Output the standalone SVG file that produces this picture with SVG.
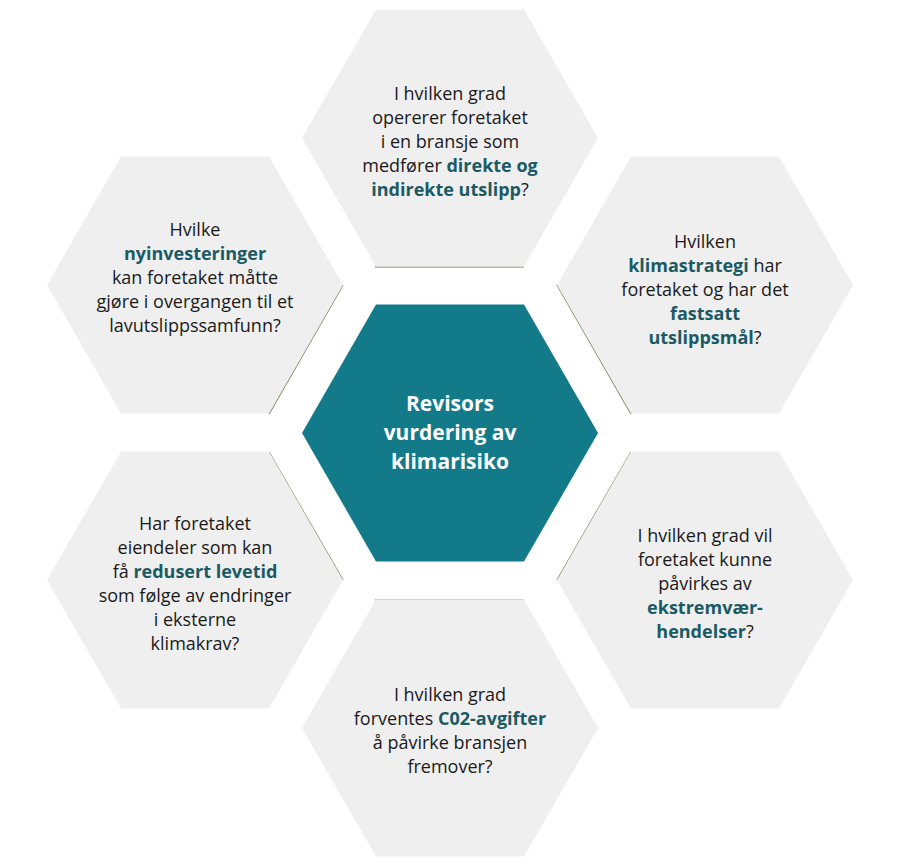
<svg xmlns="http://www.w3.org/2000/svg" width="900" height="865" viewBox="0 0 900 865">
<style>
.hex{fill:#efefef}
.t{font-family:"Open Sans","Liberation Sans",sans-serif;font-size:18px;fill:#1a1a1a;text-anchor:middle}
.b{font-weight:bold;fill:#1b5a64}
.c{font-family:"Open Sans","Liberation Sans",sans-serif;font-size:21px;font-weight:bold;fill:#fff;text-anchor:middle}
.ln{stroke:#7a7352;stroke-width:1.2;fill:none}
</style>
<defs><polygon id="h" points="-148,0 -74,-128.5 74,-128.5 148,0 74,128.5 -74,128.5"/></defs>
<rect width="900" height="865" fill="#fff"/>
<g id="connectors">
<line class="ln" x1="375" y1="267" x2="524" y2="267"/>
<line class="ln" x1="375" y1="600" x2="524" y2="600"/>
<line class="ln" x1="343" y1="285" x2="269" y2="414"/>
<line class="ln" x1="557" y1="285" x2="631" y2="414"/>
<line class="ln" x1="269" y1="452" x2="343" y2="580"/>
<line class="ln" x1="631" y1="452" x2="557" y2="580"/>
</g>
<g id="center"><use href="#h" transform="translate(450,433)" fill="#137a8a"/>
<text class="c" x="450" y="411">Revisors</text><text class="c" x="450" y="440">vurdering av</text><text class="c" x="450" y="469">klimarisiko</text></g>
<g id="top"><use href="#h" class="hex" transform="translate(450,138)"/>
<text class="t" x="450" y="100">I hvilken grad</text><text class="t" x="450" y="124">opererer foretaket</text><text class="t" x="450" y="148">i en bransje som</text><text class="t" x="450" y="172">medfører <tspan class="b">direkte og</tspan></text><text class="t" x="450" y="196"><tspan class="b">indirekte utslipp</tspan>?</text></g>
<g id="upright"><use href="#h" class="hex" transform="translate(705,285)"/>
<text class="t" x="705" y="248">Hvilken</text><text class="t" x="705" y="272"><tspan class="b">klimastrategi</tspan> har</text><text class="t" x="705" y="296">foretaket og har det</text><text class="t" x="705" y="320" font-weight="bold"><tspan class="b">fastsatt</tspan></text><text class="t" x="705" y="344"><tspan class="b">utslippsmål</tspan>?</text></g>
<g id="lowright"><use href="#h" class="hex" transform="translate(705,580)"/>
<text class="t" x="705" y="542">I hvilken grad vil</text><text class="t" x="705" y="566">foretaket kunne</text><text class="t" x="705" y="590">påvirkes av</text><text class="t" x="705" y="614"><tspan class="b">ekstremvær-</tspan></text><text class="t" x="705" y="638"><tspan class="b">hendelser</tspan>?</text></g>
<g id="bottom"><use href="#h" class="hex" transform="translate(450,728)"/>
<text class="t" x="450" y="701">I hvilken grad</text><text class="t" x="450" y="725">forventes <tspan class="b">C02-avgifter</tspan></text><text class="t" x="450" y="749">å påvirke bransjen</text><text class="t" x="450" y="773">fremover?</text></g>
<g id="lowleft"><use href="#h" class="hex" transform="translate(195,580)"/>
<text class="t" x="195" y="530">Har foretaket</text><text class="t" x="195" y="554">eiendeler som kan</text><text class="t" x="195" y="578">få <tspan class="b">redusert levetid</tspan></text><text class="t" x="195" y="602">som følge av endringer</text><text class="t" x="195" y="626">i eksterne</text><text class="t" x="195" y="650">klimakrav?</text></g>
<g id="upleft"><use href="#h" class="hex" transform="translate(195,285)"/>
<text class="t" x="195" y="236">Hvilke</text><text class="t" x="195" y="260"><tspan class="b">nyinvesteringer</tspan></text><text class="t" x="195" y="284">kan foretaket måtte</text><text class="t" x="195" y="308">gjøre i overgangen til et</text><text class="t" x="195" y="332">lavutslippssamfunn?</text></g>
</svg>
